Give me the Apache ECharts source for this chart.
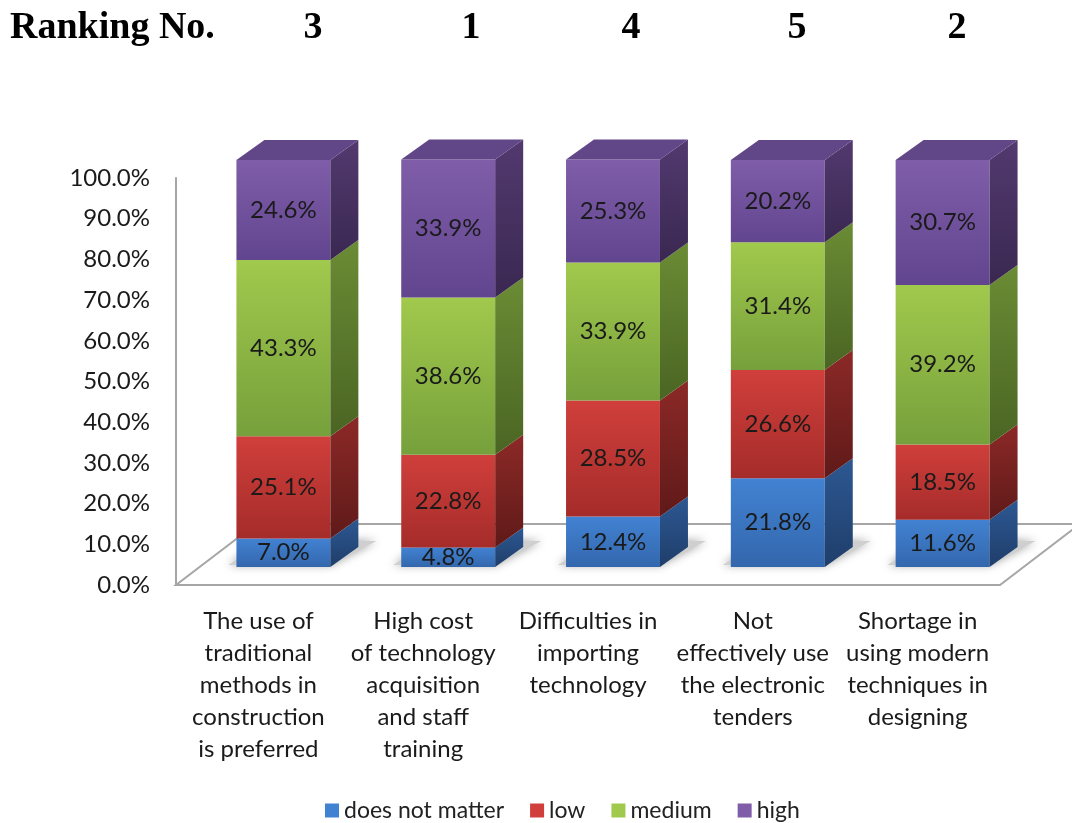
<!DOCTYPE html>
<html>
<head>
<meta charset="utf-8">
<script src="https://cdn.jsdelivr.net/npm/echarts@6/dist/echarts.min.js"></script>
<style>
  html, body { margin: 0; padding: 0; background: #fff; }
  #main { width: 1072px; height: 823px; }
</style>
</head>
<body>
<div id="main"></div>
<script>
// categories and values (percent)
var categories = [
  'The use of\ntraditional\nmethods in\nconstruction\nis preferred',
  'High cost\nof technology\nacquisition\nand staff\ntraining',
  'Difficulties in\nimporting\ntechnology',
  'Not\neffectively use\nthe electronic\ntenders',
  'Shortage in\nusing modern\ntechniques in\ndesigning'
];
var ranks = ['3', '1', '4', '5', '2'];
var doesNotMatter = [7.0, 4.8, 12.4, 21.8, 11.6];
var low = [25.1, 22.8, 28.5, 26.6, 18.5];
var medium = [43.3, 38.6, 33.9, 31.4, 39.2];
var high = [24.6, 33.9, 25.3, 20.2, 30.7];

var seriesNames = ['does not matter', 'low', 'medium', 'high'];
var seriesValues = [doesNotMatter, low, medium, high];

// colours: [front top, front bottom, side top, side bottom, top face]
var palette = [
  ['#4282d2', '#3367ad', '#2d5893', '#1f3e6a', '#3a72bb'],
  ['#d03f3b', '#a52c2a', '#8c2927', '#5f1a19', '#b83532'],
  ['#a1c94d', '#76a03b', '#6b8c35', '#4a6523', '#8fb445'],
  ['#7f5da9', '#62458f', '#52396f', '#3a2851', '#614787']
];

var FONT = 'Lato, "Open Sans", sans-serif';
var DX = 28, DY = -20;      // bar depth
var OX = 25, OY = -18;      // bar front offset from floor front edge
var FX = 80, FY = -61;      // floor depth

function grad(c1, c2) {
  return { type: 'linear', x: 0, y: 0, x2: 0, y2: 1,
    colorStops: [{ offset: 0, color: c1 }, { offset: 1, color: c2 }] };
}

function makeBarSeries(k) {
  var data = seriesValues[k].map(function (v, i) {
    var base = 0;
    for (var j = 0; j < k; j++) base += seriesValues[j][i];
    return [i, v, base];
  });
  var col = palette[k];
  var isTop = k === seriesValues.length - 1;
  return {
    name: seriesNames[k],
    type: 'custom',
    itemStyle: { color: col[0] },
    data: data,
    z: 3 + k,
    renderItem: function (params, api) {
      var i = api.value(0), v = api.value(1), base = api.value(2);
      var p0 = api.coord([i, base]);
      var p1 = api.coord([i, base + v]);
      var bw = api.size([1, 0])[0] * 0.57;
      var xl = p0[0] - bw / 2 + OX, xr = p0[0] + bw / 2 + OX;
      var yb = p0[1] + OY, yt = p1[1] + OY;
      var children = [
        { type: 'rect', shape: { x: xl, y: yt, width: xr - xl, height: yb - yt },
          style: { fill: grad(col[0], col[1]) } },
        { type: 'polygon', shape: { points: [[xr, yt], [xr + DX, yt + DY], [xr + DX, yb + DY], [xr, yb]] },
          style: { fill: grad(col[2], col[3]) } },
        { type: 'text', style: {
            text: v.toFixed(1) + '%', x: (xl + xr) / 2, y: (yt + yb) / 2,
            align: 'center', verticalAlign: 'middle',
            font: '24px ' + FONT, fill: '#1a1a1a' } }
      ];
      if (isTop) {
        children.push({ type: 'polygon',
          shape: { points: [[xl, yt], [xl + DX, yt + DY], [xr + DX, yt + DY], [xr, yt]] },
          style: { fill: col[4] } });
      }
      return { type: 'group', children: children };
    }
  };
}

var floorSeries = {
  type: 'custom',
  data: [[0, 0]],
  z: 1,
  silent: true,
  renderItem: function (params) {
    var cs = params.coordSys;
    var x = cs.x, y = cs.y + cs.height, w = cs.width;
    var shadows = [];
    for (var i = 0; i < categories.length; i++) {
      var c = x + w * (i + 0.5) / categories.length;
      var bw = w / categories.length * 0.57;
      var xl = c - bw / 2 + OX, xr = c + bw / 2 + OX, yb = y + OY;
      shadows.push({ type: 'polygon',
        shape: { points: [[xl - 8, yb - 2], [xr, yb - 2], [xr + DX + 18, yb + DY - 6], [xl + DX, yb + DY - 6]] },
        style: { fill: '#cfcfcf', shadowBlur: 10, shadowColor: 'rgba(0,0,0,0.4)' } });
    }
    return { type: 'group', children: [
      { type: 'polygon',
        shape: { points: [[x, y], [x + w, y], [x + w + FX, y + FY], [x + FX, y + FY]] },
        style: { fill: '#fff', stroke: '#a6a6a6', lineWidth: 2 } }
    ].concat(shadows) };
  }
};

var chart = echarts.init(document.getElementById('main'));

var rankX = [313, 471, 631, 797, 957];
var graphics = [{ type: 'text', x: 10, y: 28,
  style: { text: 'Ranking No.', font: 'bold 38px "Liberation Serif", serif', fill: '#000',
    verticalAlign: 'middle' } }];
ranks.forEach(function (r, i) {
  graphics.push({ type: 'text', x: rankX[i], y: 28,
    style: { text: r, font: 'bold 38px "Liberation Serif", serif', fill: '#000',
      align: 'center', verticalAlign: 'middle' } });
});

chart.setOption({
  animation: false,
  backgroundColor: '#fff',
  graphic: graphics,
  grid: { left: 176, top: 178, width: 824, height: 407 },
  legend: {
    top: 794,
    left: 320,
    icon: 'rect',
    itemWidth: 14,
    itemHeight: 14,
    itemGap: 26,
    data: seriesNames,
    textStyle: { fontSize: 23, fontFamily: FONT, color: '#222' }
  },
  xAxis: {
    type: 'category',
    data: categories,
    axisLine: { show: false },
    axisTick: { show: false },
    axisLabel: { margin: 20, fontSize: 24, lineHeight: 32, color: '#1a1a1a',
      fontFamily: FONT, interval: 0 }
  },
  yAxis: {
    type: 'value',
    min: 0, max: 100, interval: 10,
    axisLine: { show: true, lineStyle: { color: '#a6a6a6', width: 2 } },
    axisTick: { show: false },
    splitLine: { show: false },
    axisLabel: { margin: 26, fontSize: 24, color: '#1a1a1a', fontFamily: FONT,
      formatter: function (v) { return v.toFixed(1) + '%'; } }
  },
  series: [floorSeries].concat(seriesValues.map(function (_, k) { return makeBarSeries(k); }))
});
</script>
</body>
</html>
